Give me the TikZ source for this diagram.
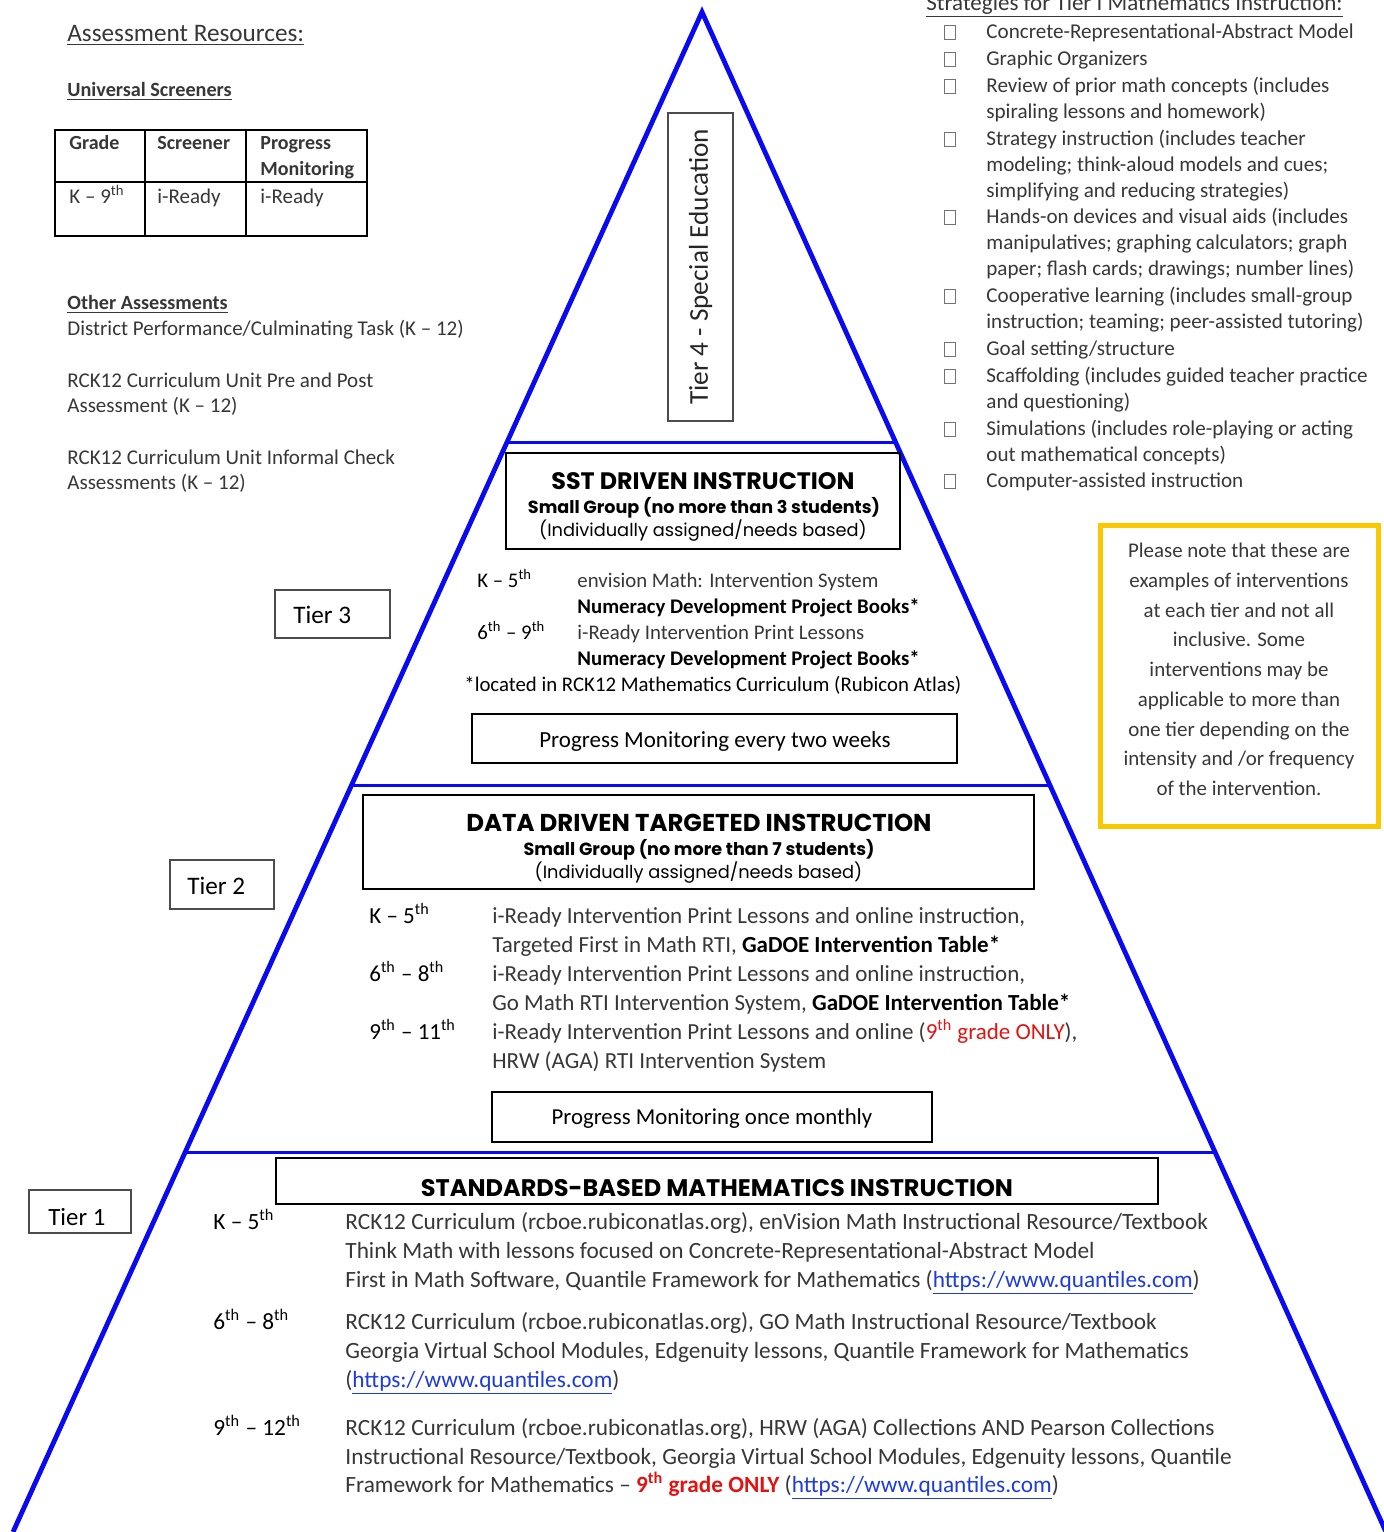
\documentclass[tikz,border=0pt]{standalone}
\usepackage{fontspec}
\setmainfont{Carlito}
\newfontfamily\gothic{Poppins}
\usetikzlibrary{calc}
\definecolor{tri}{RGB}{10,10,240}
\definecolor{txt}{RGB}{55,55,55}
\definecolor{gold}{RGB}{248,200,0}
\definecolor{lnk}{RGB}{30,60,220}
\definecolor{redx}{RGB}{225,20,20}
\newcommand\qlink{\textcolor{lnk}{\underline{https://www.quantiles.com}}}
\newcommand\thx{\textsuperscript{th}}
\begin{document}
\begin{tikzpicture}[x=0.5pt,y=-0.5pt,
  lbl/.style={anchor=base west, inner sep=0pt, text=txt},
  grd/.style={anchor=base west, inner sep=0pt, text=black},
  ctr/.style={anchor=base, inner sep=0pt, text=black},
  bbox/.style={draw=black, line width=1.3pt, inner sep=0pt},
  tierbox/.style={draw=black!70, line width=0.8pt, inner sep=0pt},
  chk/.style={draw=black!55, line width=0.5pt, minimum width=5.5pt, minimum height=7pt, inner sep=0pt},
  edge/.style={draw=tri, line width=2.4pt, line join=miter},
  level/.style={draw=tri, line width=1.5pt},
]
\fill[white] (0,0) rectangle (1384,1532);
\useasboundingbox (0,0) rectangle (1384,1532);

% ---------- pyramid ----------
\coordinate (apex) at (702,12);
\coordinate (bl) at (13,1532);
\coordinate (br) at (1386,1532);
\coordinate (l3) at ($(apex)!{(443-12)/1520}!(bl)$);
\coordinate (r3) at ($(apex)!{(443-12)/1520}!(br)$);
\coordinate (l2) at ($(apex)!{(785-12)/1520}!(bl)$);
\coordinate (r2) at ($(apex)!{(785-12)/1520}!(br)$);
\coordinate (l1) at ($(apex)!{(1152-12)/1520}!(bl)$);
\coordinate (r1) at ($(apex)!{(1152-12)/1520}!(br)$);
\draw[level] (l3) -- (r3);
\draw[level] (l2) -- (r2);
\draw[level] (l1) -- (r1);
\draw[edge] (bl) -- (apex) -- (br);

% ---------- left column ----------
\begin{scope}[every node/.append style={font=\fontsize{10.5}{12}\selectfont}]
\node[lbl, font=\fontsize{12.6}{14}\selectfont] (ar) at (67,41) {\underline{Assessment Resources:}};
\node[lbl, font=\fontsize{10.1}{12}\selectfont\bfseries] (us) at (67,96) {\underline{Universal Screeners}};
\draw[line width=1pt] (55,130) rectangle (367,236);
\draw[line width=1pt] (145,130) -- (145,236) (246,130) -- (246,236) (55,182) -- (367,182);
\node[lbl, font=\fontsize{10}{12}\selectfont\bfseries] (tg) at (69,149) {Grade};
\node[lbl, font=\fontsize{10}{12}\selectfont\bfseries] (ts) at (157,149) {Screener};
\node[lbl, font=\fontsize{10}{12}\selectfont\bfseries] (tp) at (260,149) {Progress};
\node[lbl, font=\fontsize{10}{12}\selectfont\bfseries] (tm) at (260,175) {Monitoring};
\node[lbl] (tk) at (69,203) {K – 9\thx};
\node[lbl] (ti1) at (157,203) {i-Ready};
\node[lbl] (ti2) at (260,203) {i-Ready};
\node[lbl, font=\fontsize{10.1}{12}\selectfont\bfseries] (oa) at (67,309) {\underline{Other Assessments}};
\node[lbl] (oa1) at (67,335) {District Performance/Culminating Task (K – 12)};
\node[lbl] (oa2) at (67,387) {RCK12 Curriculum Unit Pre and Post};
\node[lbl] (oa3) at (67,412) {Assessment (K – 12)};
\node[lbl] (oa4) at (67,464) {RCK12 Curriculum Unit Informal Check};
\node[lbl] (oa5) at (67,489) {Assessments (K – 12)};
\end{scope}

% ---------- strategies ----------
\begin{scope}[every node/.append style={font=\fontsize{10.55}{12}\selectfont}]
\node[lbl, font=\fontsize{11.5}{13}\selectfont] (sh) at (926,10) {\underline{Strategies for Tier I Mathematics Instruction:}};
\foreach \y in {32,59,86,139,217,296,349,376,429,481}
  \node[chk] (c\y) at (950,\y) {};
\foreach \y/\t [count=\i] in {
  38/{Concrete-Representational-Abstract Model},
  65/{Graphic Organizers},
  92/{Review of prior math concepts (includes},
  118/{spiraling lessons and homework)},
  145/{Strategy instruction (includes teacher},
  171/{modeling; think-aloud models and cues;},
  197/{simplifying and reducing strategies)},
  223/{Hands-on devices and visual aids (includes},
  249/{manipulatives; graphing calculators; graph},
  275/{paper; flash cards; drawings; number lines)},
  302/{Cooperative learning (includes small-group},
  328/{instruction; teaming; peer-assisted tutoring)},
  355/{Goal setting/structure},
  382/{Scaffolding (includes guided teacher practice},
  408/{and questioning)},
  435/{Simulations (includes role-playing or acting},
  461/{out mathematical concepts)},
  487/{Computer-assisted instruction}}
  \node[lbl] (s\i) at (986,\y) {\t};
\end{scope}

% ---------- note ----------
\node[draw=gold, line width=2.5pt, minimum width=139pt, minimum height=150.5pt, inner sep=0pt] (note) at (1239,675.5) {};
\foreach \y/\t [count=\i] in {
  557/{Please note that these are},
  587/{examples of interventions},
  617/{at each tier and not all},
  646/{inclusive. Some},
  676/{interventions may be},
  706/{applicable to more than},
  736/{one tier depending on the},
  765/{intensity and /or frequency},
  795/{of the intervention.}}
  \node[ctr, text=txt, font=\fontsize{10.45}{12}\selectfont] (n\i) at (1239,\y) {\t};

% ---------- tier labels ----------
\node[tierbox, rotate=90, minimum width=154pt, minimum height=32.5pt, font=\fontsize{13.6}{15}\selectfont, text=black!85] (t4) at (700.5,267) {Tier 4 - Special Education};
\node[tierbox, minimum width=57.5pt, minimum height=24pt] (t3) at (332.5,614) {};
\node[grd, font=\fontsize{12.6}{14}\selectfont] (t3t) at (293,623) {Tier 3};
\node[tierbox, minimum width=52pt, minimum height=24.5pt] (t2) at (222,884.5) {};
\node[grd, font=\fontsize{12.6}{14}\selectfont] (t2t) at (187,894) {Tier 2};
\node[tierbox, minimum width=51pt, minimum height=21.5pt] (t1) at (80,1211.5) {};
\node[grd, font=\fontsize{12.4}{14}\selectfont] (t1t) at (48,1225) {Tier 1};

% ---------- tier 3 ----------
\node[bbox, minimum width=197pt, minimum height=48pt] (sst) at (703,501) {};
\node[ctr, font=\gothic\bfseries\fontsize{11.9}{13}\selectfont] (sstt) at (703,489) {SST DRIVEN INSTRUCTION};
\node[ctr, font=\gothic\bfseries\fontsize{8.8}{10}\selectfont] (ssts) at (704,513) {Small Group (no more than 3 students)};
\node[ctr, font=\gothic\fontsize{8.9}{10}\selectfont] (sstp) at (703,536) {(Individually assigned/needs based)};
\begin{scope}[every node/.append style={font=\fontsize{10.4}{12}\selectfont}]
\node[grd] (g3a) at (477,587) {K – 5\thx};
\node[lbl] (a3a) at (577,587) {envision Math: Intervention System};
\node[grd, font=\fontsize{10.4}{12}\selectfont\bfseries] (a3b) at (577,613) {Numeracy Development Project Books*};
\node[grd] (g3b) at (477,639) {6\thx{} – 9\thx};
\node[lbl] (a3c) at (577,639) {i-Ready Intervention Print Lessons};
\node[grd, font=\fontsize{10.4}{12}\selectfont\bfseries] (a3d) at (577,665) {Numeracy Development Project Books*};
\node[grd] (a3e) at (464,691) {*located in RCK12 Mathematics Curriculum (Rubicon Atlas)};
\end{scope}
\node[bbox, minimum width=242.5pt, minimum height=24.5pt] (pm3) at (714.5,738.5) {};
\node[ctr, font=\fontsize{11.5}{13}\selectfont] (pm3t) at (715,747) {Progress Monitoring every two weeks};

% ---------- tier 2 ----------
\node[bbox, minimum width=335.5pt, minimum height=47pt] (dd) at (698.5,842) {};
\node[ctr, font=\gothic\bfseries\fontsize{12.2}{13}\selectfont] (ddt) at (699,831) {DATA DRIVEN TARGETED INSTRUCTION};
\node[ctr, font=\gothic\bfseries\fontsize{8.8}{10}\selectfont] (dds) at (699,855) {Small Group (no more than 7 students)};
\node[ctr, font=\gothic\fontsize{8.9}{10}\selectfont] (ddp) at (698.5,878) {(Individually assigned/needs based)};
\begin{scope}[every node/.append style={font=\fontsize{11.5}{13}\selectfont}]
\node[grd] (g2a) at (369,923) {K – 5\thx};
\node[grd] (g2b) at (369,981) {6\thx{} – 8\thx};
\node[grd] (g2c) at (369,1039) {9\thx{} – 11\thx};
\node[lbl] (a2a) at (492,923) {i-Ready Intervention Print Lessons and online instruction,};
\node[lbl] (a2b) at (492,952) {Targeted First in Math RTI, \textcolor{black}{\bfseries GaDOE Intervention Table*}};
\node[lbl] (a2c) at (492,981) {i-Ready Intervention Print Lessons and online instruction,};
\node[lbl] (a2d) at (492,1010) {Go Math RTI Intervention System, \textcolor{black}{\bfseries GaDOE Intervention Table*}};
\node[lbl] (a2e) at (492,1039) {i-Ready Intervention Print Lessons and online (\textcolor{redx}{9\thx{} grade ONLY}),};
\node[lbl] (a2f) at (492,1068) {HRW (AGA) RTI Intervention System};
\end{scope}
\node[bbox, minimum width=220pt, minimum height=25pt] (pm2) at (712,1117) {};
\node[ctr, font=\fontsize{11.4}{13}\selectfont] (pm2t) at (712,1124) {Progress Monitoring once monthly};

% ---------- tier 1 ----------
\node[bbox, minimum width=441pt, minimum height=23pt] (sb) at (717,1181) {};
\node[ctr, font=\gothic\bfseries\fontsize{12}{13}\selectfont] (sbt) at (717,1196) {STANDARDS-BASED MATHEMATICS INSTRUCTION};
\begin{scope}[every node/.append style={font=\fontsize{11.65}{13}\selectfont}]
\node[grd] (g1a) at (213,1229) {K – 5\thx};
\node[grd] (g1b) at (213,1329) {6\thx{} – 8\thx};
\node[grd] (g1c) at (213,1435) {9\thx{} – 12\thx};
\node[lbl] (a1a) at (345,1229) {RCK12 Curriculum (rcboe.rubiconatlas.org), enVision Math Instructional Resource/Textbook};
\node[lbl] (a1b) at (345,1258) {Think Math with lessons focused on Concrete-Representational-Abstract Model};
\node[lbl] (a1c) at (345,1287) {First in Math Software, Quantile Framework for Mathematics (\qlink)};
\node[lbl] (a1d) at (345,1329) {RCK12 Curriculum (rcboe.rubiconatlas.org), GO Math Instructional Resource/Textbook};
\node[lbl] (a1e) at (345,1358) {Georgia Virtual School Modules, Edgenuity lessons, Quantile Framework for Mathematics};
\node[lbl] (a1f) at (345,1387) {(\qlink)};
\node[lbl] (a1g) at (345,1435) {RCK12 Curriculum (rcboe.rubiconatlas.org), HRW (AGA) Collections AND Pearson Collections};
\node[lbl] (a1h) at (345,1464) {Instructional Resource/Textbook, Georgia Virtual School Modules, Edgenuity lessons, Quantile};
\node[lbl] (a1i) at (345,1492) {Framework for Mathematics – \textcolor{redx}{\bfseries 9\thx{} grade ONLY} (\qlink)};
\end{scope}
\end{tikzpicture}
\end{document}
